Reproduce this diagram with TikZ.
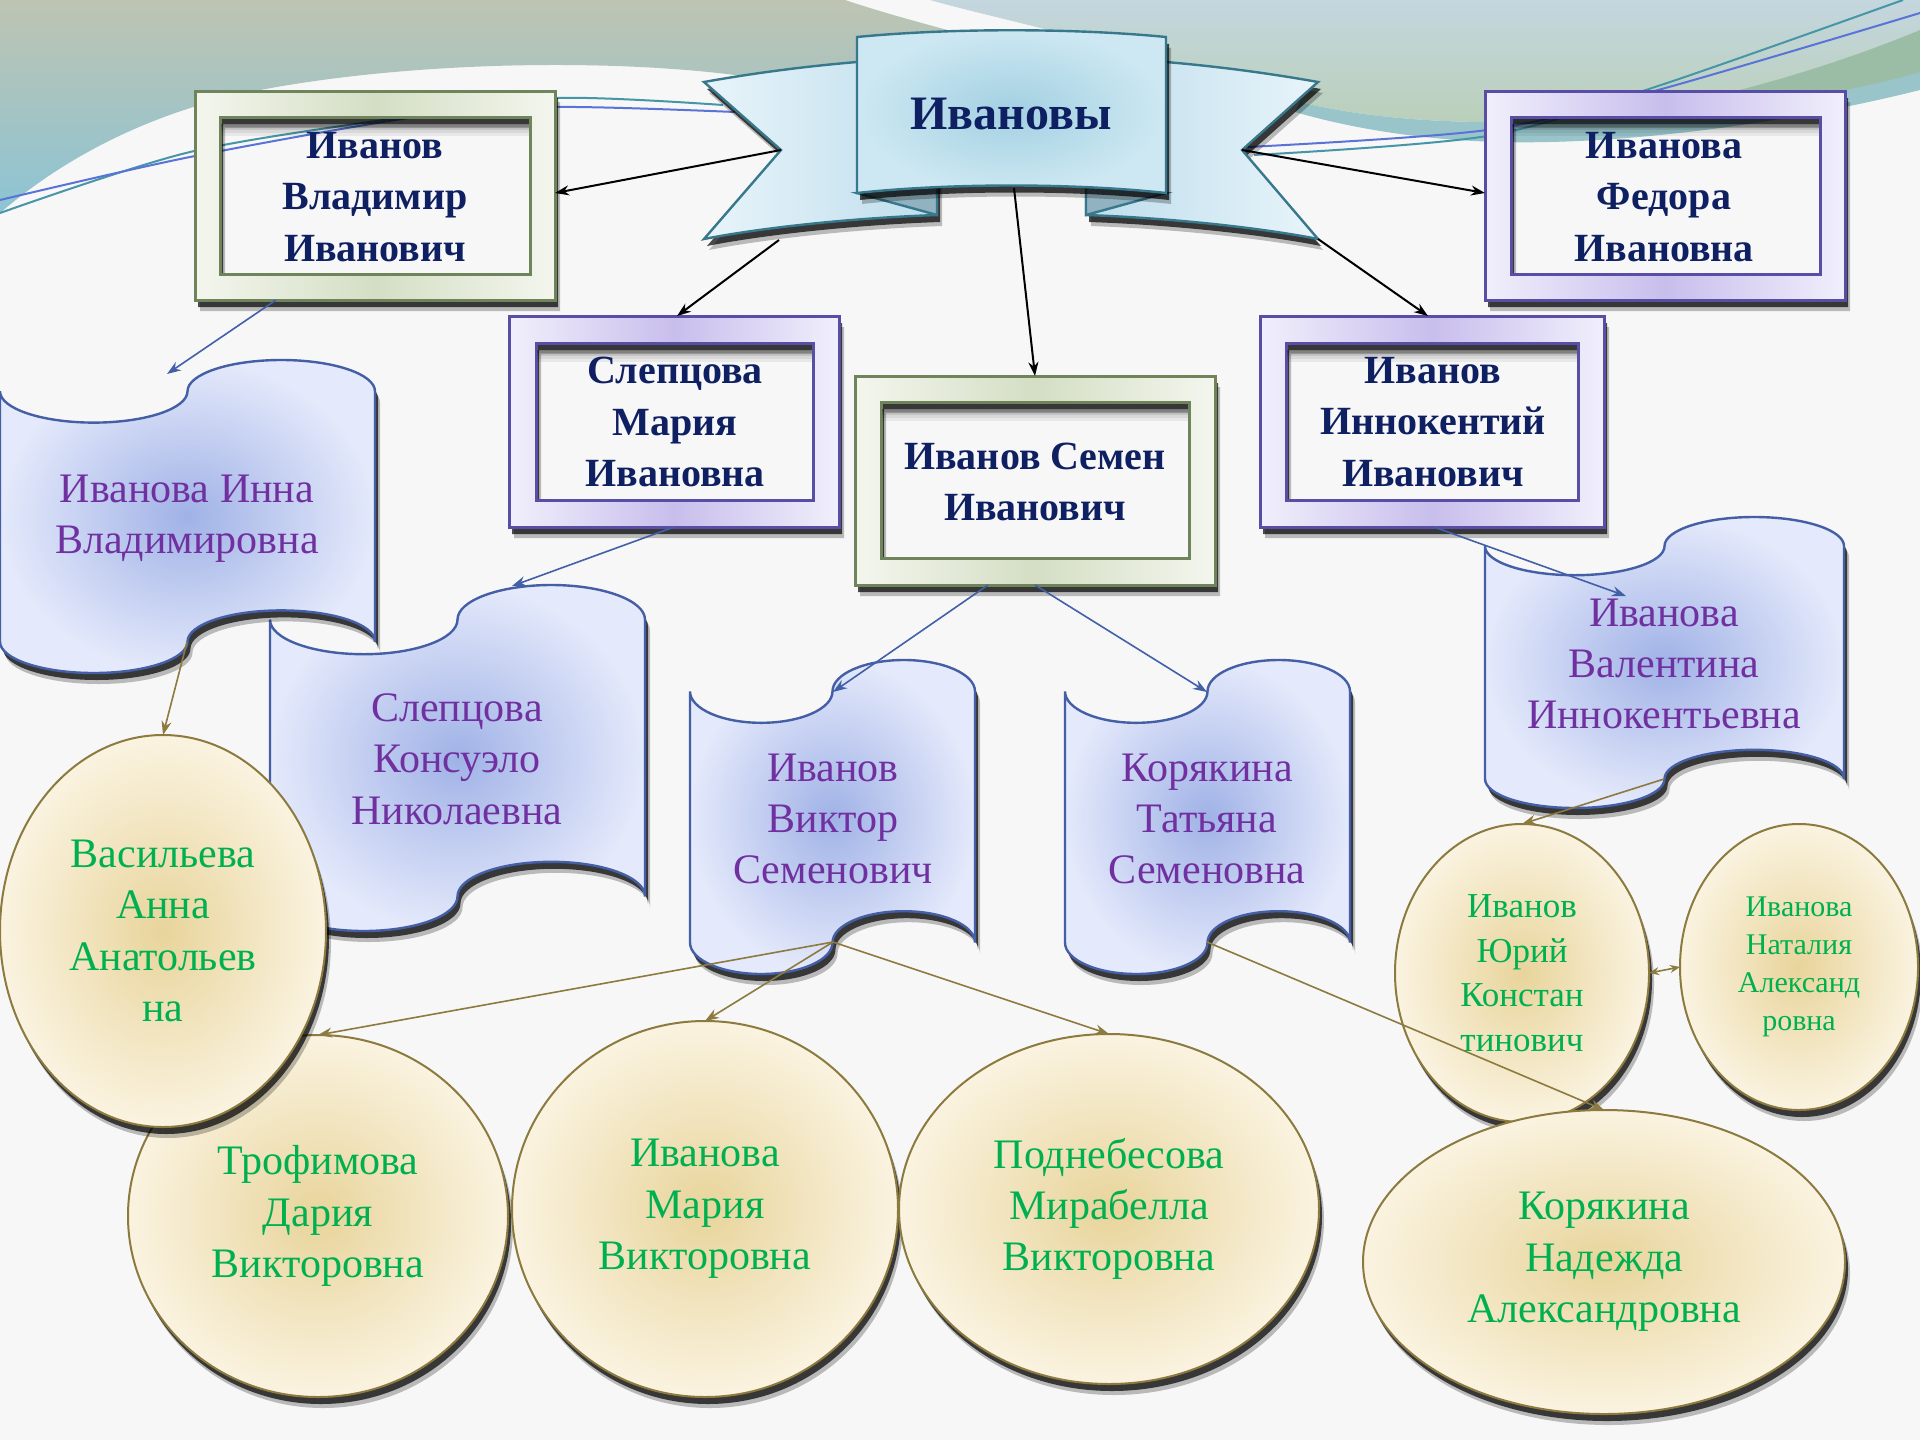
\documentclass[tikz,border=0pt]{standalone}
\usepackage{fontspec}
\setmainfont{Liberation Serif}
\usetikzlibrary{arrows.meta,shadows,shapes.geometric}
\definecolor{bgcol}{RGB}{247,247,247}
\definecolor{navyt}{RGB}{14,32,98}
\definecolor{purplet}{RGB}{112,48,160}
\definecolor{greent}{RGB}{0,176,80}
\definecolor{gBorder}{RGB}{112,132,92}
\definecolor{gMid}{RGB}{212,222,196}
\definecolor{gLight}{RGB}{244,246,238}
\definecolor{pBorder}{RGB}{88,78,165}
\definecolor{pMid}{RGB}{200,190,236}
\definecolor{pLight}{RGB}{241,239,252}
\definecolor{scIn}{RGB}{160,178,230}
\definecolor{scOut}{RGB}{228,233,251}
\definecolor{scLine}{RGB}{68,95,165}
\definecolor{elIn}{RGB}{232,212,155}
\definecolor{elOut}{RGB}{250,243,224}
\definecolor{elLine}{RGB}{140,122,62}
\definecolor{bnLine}{RGB}{55,120,140}
\definecolor{bnIn}{RGB}{163,208,226}
\definecolor{bnOut}{RGB}{205,232,242}
\definecolor{wgDark}{RGB}{190,222,236}
\definecolor{wgLight}{RGB}{232,244,250}
\definecolor{foldc}{RGB}{145,178,192}
\definecolor{conBlue}{RGB}{66,96,168}
\definecolor{conOlive}{RGB}{140,122,62}
\definecolor{lnTeal}{RGB}{70,150,168}
\definecolor{lnBlue}{RGB}{90,115,215}
\definecolor{topA}{RGB}{190,196,178}
\definecolor{topB}{RGB}{140,196,212}
\definecolor{trA}{RGB}{196,214,222}
\definecolor{trB}{RGB}{186,208,186}
\definecolor{trTeal}{RGB}{152,196,202}
\definecolor{trDark}{RGB}{155,188,165}

\tikzset{
 softsh/.style={drop shadow={shadow xshift=2.5pt,shadow yshift=-5.5pt,opacity=0.25,fill=black}},
 hardsh/.style={drop shadow={shadow xshift=1.5pt,shadow yshift=-3.5pt,opacity=0.7,fill=black}},
 gframe/.style={even odd rule, draw=gBorder, line width=1.5pt, left color=gLight, right color=gLight, middle color=gMid},
 pframe/.style={even odd rule, draw=pBorder, line width=1.5pt, left color=pLight, right color=pLight, middle color=pMid},
 gline/.style={draw=gBorder, line width=1pt},
 pline/.style={draw=pBorder, line width=1pt},
 scrollsty/.style={draw=scLine, line width=1.2pt, inner color=scIn, outer color=scOut, softsh, hardsh},
 famell/.style={ellipse, draw=elLine, line width=1pt, inner color=elIn, outer color=elOut, softsh, hardsh, inner sep=0pt, outer sep=0pt},
 navytxt/.style={text=navyt, align=center, inner sep=0pt},
 purpletxt/.style={text=purplet, align=center, inner sep=0pt, font=\fontsize{21}{25.7}\selectfont},
 greentxt/.style={text=greent, align=center, inner sep=0pt, font=\fontsize{21}{25.7}\selectfont},
 blackcon/.style={draw=black, line width=1pt, -{Stealth[length=7pt,width=5pt]}},
 bluecon/.style={draw=conBlue, line width=0.8pt, -{Stealth[length=7pt,width=5pt]}},
 olivecon/.style={draw=conOlive, line width=0.8pt, -{Stealth[length=7pt,width=5pt]}},
 banline/.style={draw=bnLine, line width=1.2pt},
}

\newcommand{\boxfont}{\bfseries\fontsize{20}{25.7}\selectfont}
\newcommand{\famframe}[9]{%
  \fill[black,opacity=0.25,even odd rule] (#1+5,#2+11) rectangle (#3+5,#4+11) (#5+5,#6+11) rectangle (#7+5,#8+11);
  \fill[black,opacity=0.7,even odd rule] (#1+3,#2+7) rectangle (#3+3,#4+7) (#5+3,#6+7) rectangle (#7+3,#8+7);
  \path[#9frame] (#1,#2) rectangle (#3,#4) (#5,#6) rectangle (#7,#8);
  \foreach \sI/\sO in {0/0.3,1/0.2,2/0.12,3/0.06}{
    \fill[black,opacity=\sO] (#5,#6+7+\sI*3) rectangle (#7,#6+10+\sI*3);}
  \draw[#9line] (#5,#6) rectangle (#7,#8);
}
\newcommand{\scrollshape}[4]{%
  \pgfmathsetmacro{\tXa}{#1}
  \pgfmathsetmacro{\tXb}{#1+#3/4}
  \pgfmathsetmacro{\tXc}{#1+#3/2}
  \pgfmathsetmacro{\tXd}{#1+3*#3/4}
  \pgfmathsetmacro{\tXe}{#1+#3}
  \pgfmathsetmacro{\tKx}{0.5523*#3/4}
  \pgfmathsetmacro{\tAm}{0.1*#4}
  \pgfmathsetmacro{\tKa}{0.5523*0.1*#4}
  \pgfmathsetmacro{\tYa}{#2}
  \pgfmathsetmacro{\tYb}{#2+\tAm}
  \pgfmathsetmacro{\tYc}{#2+2*\tAm}
  \pgfmathsetmacro{\tYd}{#2+#4-2*\tAm}
  \pgfmathsetmacro{\tYe}{#2+#4-\tAm}
  \pgfmathsetmacro{\tYf}{#2+#4}
  \path[scrollsty] (\tXa,\tYb) .. controls (\tXa,\tYb+\tKa) and (\tXb-\tKx,\tYc) .. (\tXb,\tYc)
    .. controls (\tXb+\tKx,\tYc) and (\tXc,\tYb+\tKa) .. (\tXc,\tYb)
    .. controls (\tXc,\tYb-\tKa) and (\tXd-\tKx,\tYa) .. (\tXd,\tYa)
    .. controls (\tXd+\tKx,\tYa) and (\tXe,\tYb-\tKa) .. (\tXe,\tYb)
    -- (\tXe,\tYe)
    .. controls (\tXe,\tYe-\tKa) and (\tXd+\tKx,\tYd) .. (\tXd,\tYd)
    .. controls (\tXd-\tKx,\tYd) and (\tXc,\tYe-\tKa) .. (\tXc,\tYe)
    .. controls (\tXc,\tYe+\tKa) and (\tXb+\tKx,\tYf) .. (\tXb,\tYf)
    .. controls (\tXb-\tKx,\tYf) and (\tXa,\tYe+\tKa) .. (\tXa,\tYe)
    -- cycle;
}

\begin{document}
\begin{tikzpicture}[x=0.5pt,y=-0.5pt]
\useasboundingbox (0,0) rectangle (1920,1440);
\fill[bgcol] (0,0) rectangle (1920,1440);

% top decorations
\shade[top color=topA, bottom color=topB] (0,0) -- (845,0) .. controls (890,15) and (940,28) .. (985,40) .. controls (900,65) and (800,80) .. (735,75) .. controls (600,58) and (400,62) .. (250,92) .. controls (130,118) and (50,170) .. (0,213) -- cycle;
\shade[top color=trA, bottom color=trB] (930,0) -- (1920,0) -- (1920,45) .. controls (1750,100) and (1600,122) .. (1480,122) .. controls (1400,121) and (1340,112) .. (1300,102) .. controls (1200,75) and (1100,45) .. (1060,33) .. controls (1010,20) and (965,10) .. (930,0) -- cycle;
\fill[trTeal] (1300,102) .. controls (1340,112) and (1400,121) .. (1480,122) .. controls (1600,122) and (1750,100) .. (1920,45) -- (1920,90) .. controls (1780,125) and (1620,145) .. (1500,142) .. controls (1420,140) and (1350,128) .. (1295,112) -- cycle;
\fill[trDark] (1690,102) .. controls (1780,82) and (1860,55) .. (1920,30) -- (1920,72) .. controls (1850,92) and (1770,106) .. (1690,102) -- cycle;
\draw[lnTeal, line width=1pt] plot[smooth] coordinates {(0,213) (190,152) (404,117) (557,98) (723,105)};
\draw[lnBlue, line width=1pt] plot[smooth] coordinates {(0,200) (190,157) (416,117) (557,107) (735,112)};
\draw[lnBlue, line width=1pt] plot[smooth] coordinates {(1248,147) (1487,130) (1658,90) (1920,13)};
\draw[lnTeal, line width=1pt] plot[smooth] coordinates {(1254,155) (1487,136) (1658,86) (1903,0)};

% banner
\path[banline, left color=wgLight, right color=wgDark, softsh, hardsh] (704,82) .. controls (760,72) and (810,66) .. (857,62) -- (937,60) -- (937,215) .. controls (850,218) and (760,228) .. (704,239) -- (781,150) -- cycle;
\path[banline, left color=wgDark, right color=wgLight, softsh, hardsh] (1318,82) .. controls (1262,72) and (1212,66) .. (1166,62) -- (1086,60) -- (1086,215) .. controls (1172,218) and (1262,228) .. (1318,239) -- (1242,150) -- cycle;
\path[banline, fill=foldc] (857,193) -- (937,215) -- (937,185) -- cycle;
\path[banline, fill=foldc] (1166,193) -- (1086,215) -- (1086,185) -- cycle;
\path[banline, inner color=bnIn, outer color=bnOut, softsh, hardsh] (857,37) .. controls (950,28) and (1073,28) .. (1166,37) -- (1166,193) .. controls (1073,183) and (950,183) .. (857,193) -- cycle;
\node[navytxt, font=\bfseries\fontsize{24}{28}\selectfont] (ttl) at (1011,114) {Ивановы};
\coordinate (ban-ln) at (781,150);
\coordinate (ban-lb) at (779,240);
\coordinate (ban-bot) at (1014,188);
\coordinate (ban-rn) at (1242,150);
\coordinate (ban-rb) at (1318,239);

% frames
\famframe{195}{91}{555}{300}{220}{117}{530}{274}{g}
\node[navytxt, font=\boxfont] (vlad) at (375,197) {Иванов\\Владимир\\Иванович};
\famframe{1485}{91}{1845}{300}{1511}{117}{1820}{274}{p}
\node[navytxt, font=\boxfont] (fed) at (1664,197) {Иванова\\Федора\\Ивановна};
\famframe{509}{316}{839}{527}{536}{343}{813}{500}{p}
\node[navytxt, font=\boxfont] (mar) at (675,422) {Слепцова\\Мария\\Ивановна};
\famframe{855}{376}{1215}{585}{881}{402}{1189}{558}{g}
\node[navytxt, font=\boxfont] (sem) at (1035,482) {Иванов Семен\\Иванович};
\famframe{1260}{316}{1604}{527}{1286}{343}{1578}{500}{p}
\node[navytxt, font=\boxfont] (inn) at (1433,422) {Иванов\\Иннокентий\\Иванович};
\coordinate (vlad-r) at (555,193);
\coordinate (vlad-b) at (276,300);
\coordinate (fed-l) at (1485,193);
\coordinate (mar-t) at (677,316);
\coordinate (mar-b) at (674,527);
\coordinate (sem-t) at (1035,376);
\coordinate (sem-b1) at (988,585);
\coordinate (sem-b2) at (1035,585);
\coordinate (inn-t) at (1428,316);
\coordinate (inn-b) at (1434,527);

% scrolls
\scrollshape{270}{585}{375}{346}
\node[purpletxt] (scB) at (457,759) {Слепцова\\Консуэло\\Николаевна};
\scrollshape{0}{360}{375}{313}
\node[purpletxt] (scA) at (187,519) {Иванова Инна\\Владимировна};
\scrollshape{690}{660}{285}{314}
\node[purpletxt] (scC) at (833,819) {Иванов\\Виктор\\Семенович};
\scrollshape{1065}{660}{285}{314}
\node[purpletxt] (scD) at (1207,819) {Корякина\\Татьяна\\Семеновна};
\scrollshape{1485}{517}{359}{291}
\node[purpletxt] (scE) at (1664,664) {Иванова\\Валентина\\Иннокентьевна};
\coordinate (scA-t) at (167,374);
\coordinate (scA-b) at (187,642);
\coordinate (scB-t) at (512,586);
\coordinate (scC-t) at (833,692);
\coordinate (scC-b) at (833,942);
\coordinate (scD-t) at (1207,692);
\coordinate (scD-b) at (1207,942);
\coordinate (scE-t) at (1626,596);
\coordinate (scE-b) at (1664,779);

% ellipses
\node[famell, minimum width=190pt, minimum height=181pt] (trof) at (318,1216) {};
\node[greentxt] (trof-t) at (trof) {Трофимова\\Дария\\Викторовна};
\node[famell, minimum width=193pt, minimum height=188pt] (mash) at (705,1209) {};
\node[greentxt] (mash-t) at (mash) {Иванова\\Мария\\Викторовна};
\node[famell, minimum width=210pt, minimum height=175pt] (podn) at (1109,1209) {};
\node[greentxt] (podn-t) at (podn) {Поднебесова\\Мирабелла\\Викторовна};
\node[famell, minimum width=163pt, minimum height=196pt] (vasi) at (163,931) {};
\node[greentxt] (vasi-t) at (vasi) {Васильева\\Анна\\Анатольев\\на};
\node[famell, minimum width=127pt, minimum height=149pt] (yuri) at (1522,973) {};
\node[greentxt, font=\fontsize{17.5}{22.3}\selectfont] (yuri-t) at (yuri) {Иванов\\Юрий\\Констан\\тинович};
\node[famell, minimum width=119pt, minimum height=143pt] (nata) at (1799,967) {};
\node[greentxt, font=\fontsize{15}{19}\selectfont] (nata-t) at (nata) {Иванова\\Наталия\\Александ\\ровна};
\node[famell, minimum width=241pt, minimum height=152pt] (nade) at (1604,1262) {};
\node[greentxt] (nade-t) at (nade) {Корякина\\Надежда\\Александровна};

% connectors
\draw[blackcon] (ban-ln) -- (vlad-r);
\draw[blackcon] (ban-rn) -- (fed-l);
\draw[blackcon] (ban-lb) -- (mar-t);
\draw[blackcon] (ban-bot) -- (sem-t);
\draw[blackcon] (ban-rb) -- (inn-t);
\draw[bluecon] (vlad-b) -- (scA-t);
\draw[bluecon] (mar-b) -- (scB-t);
\draw[bluecon] (sem-b1) -- (scC-t);
\draw[bluecon] (sem-b2) -- (scD-t);
\draw[bluecon] (inn-b) -- (scE-t);
\draw[olivecon] (scA-b) -- (vasi.north);
\draw[olivecon] (scC-b) -- (trof.north);
\draw[olivecon] (scC-b) -- (mash.north);
\draw[olivecon] (scC-b) -- (podn.north);
\draw[olivecon] (scD-b) -- (nade.north);
\draw[olivecon] (scE-b) -- (yuri.north);
\draw[draw=conOlive, line width=0.8pt, {Stealth[length=5pt,width=4pt]}-{Stealth[length=5pt,width=4pt]}] (yuri.east) -- (nata.west);
\end{tikzpicture}
\end{document}
